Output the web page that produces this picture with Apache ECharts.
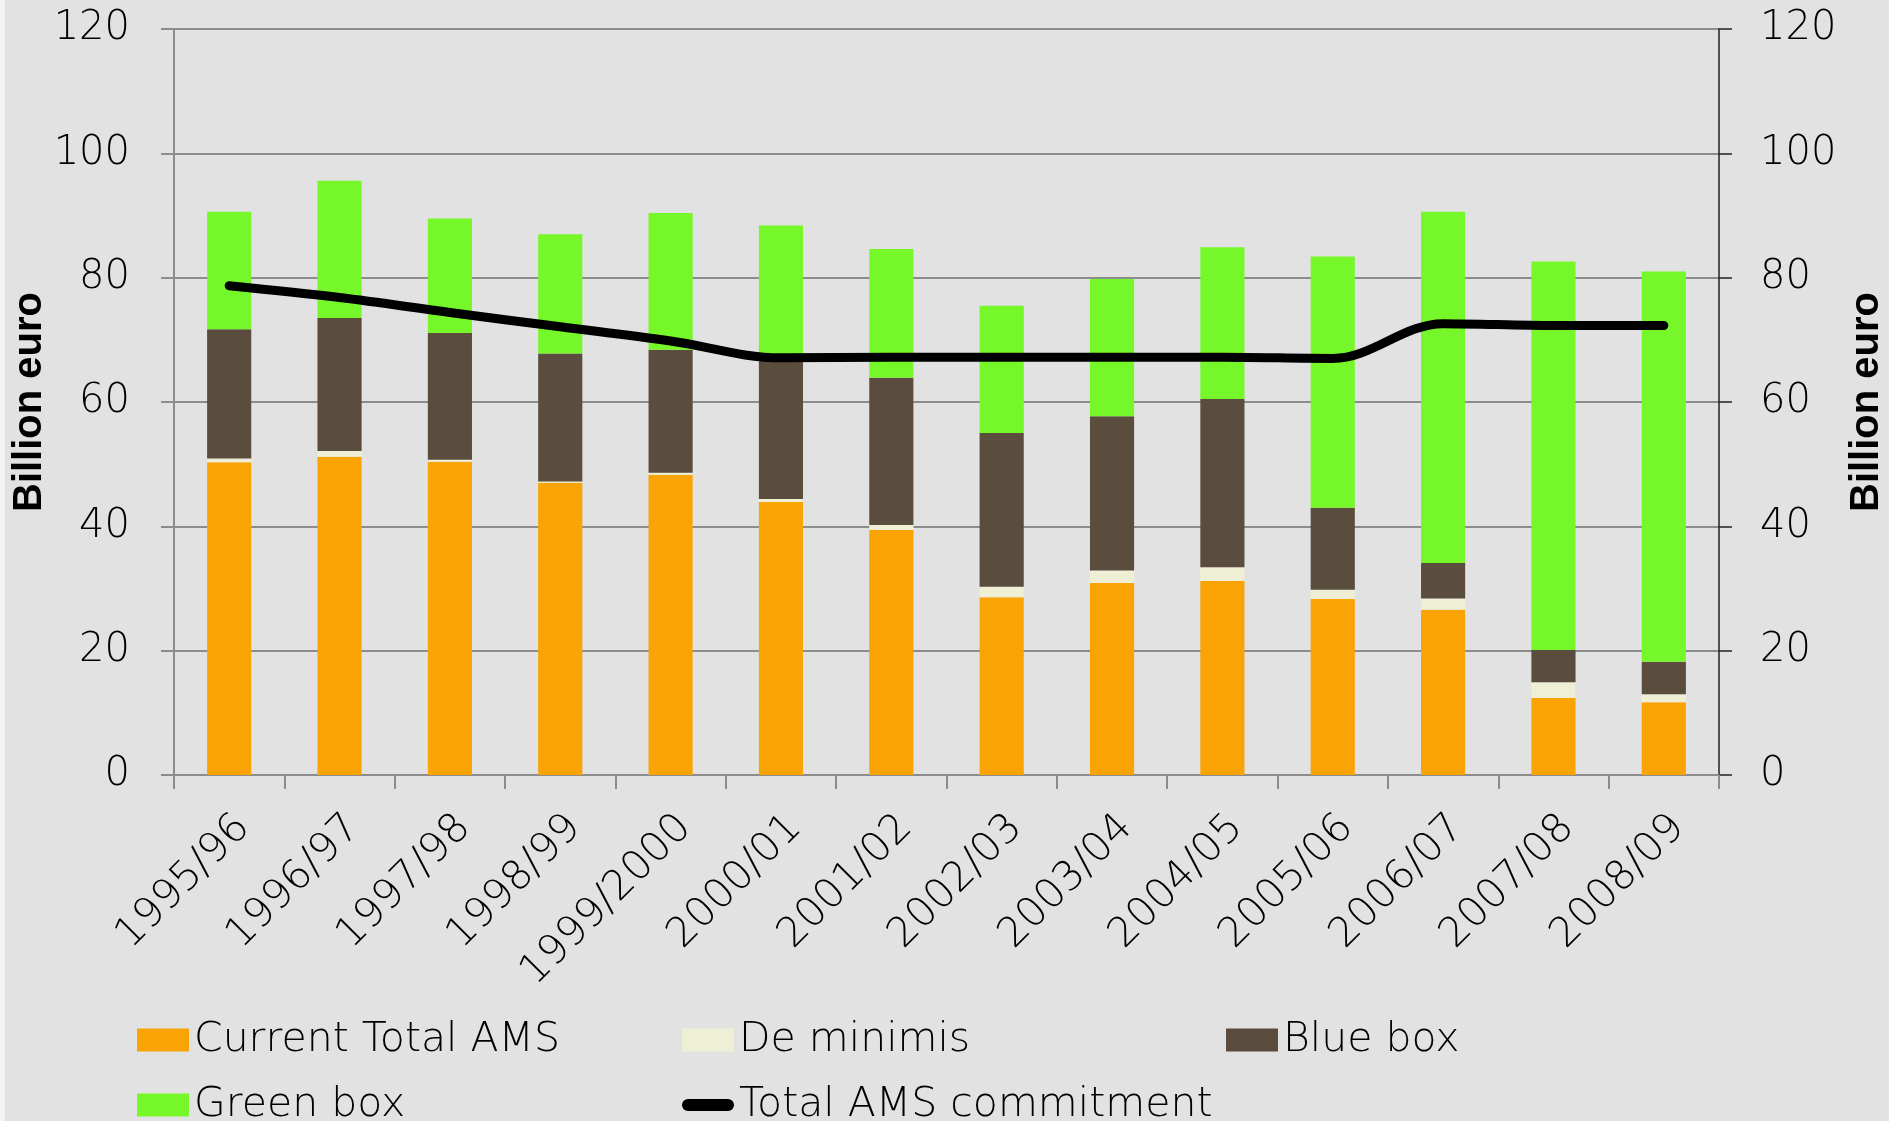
<!DOCTYPE html>
<html>
<head>
<meta charset="utf-8">
<script src="https://cdn.jsdelivr.net/npm/echarts@6/dist/echarts.min.js"></script>
<style>
  html, body { margin: 0; padding: 0; background: #e2e2e2; }
  #chart { width: 1889px; height: 1121px; }
</style>
</head>
<body>
<div id="chart"></div>
<script>
const years = ['1995/96', '1996/97', '1997/98', '1998/99', '1999/2000', '2000/01', '2001/02',
    '2002/03', '2003/04', '2004/05', '2005/06', '2006/07', '2007/08', '2008/09'];
const currentTotalAMS = [50.3, 51.2, 50.4, 47.0, 48.3, 43.9, 39.4, 28.6, 30.9, 31.2, 28.3, 26.6, 12.4, 11.7];
const deMinimis = [0.6, 0.9, 0.3, 0.2, 0.3, 0.5, 0.8, 1.7, 2.0, 2.2, 1.5, 1.8, 2.5, 1.3];
const blueBox = [20.8, 21.4, 20.4, 20.6, 19.8, 23.1, 23.7, 24.7, 24.8, 27.1, 13.2, 5.7, 5.2, 5.2];
const greenBox = [18.9, 22.1, 18.4, 19.2, 22.0, 20.9, 20.7, 20.5, 22.1, 24.4, 40.4, 56.5, 62.5, 62.8];
const amsCommitment = [78.7, 76.8, 74.4, 72.1, 69.8, 67.1, 67.2, 67.2, 67.2, 67.2, 67.0, 72.6, 72.3, 72.3];
const yTicks = { min: 0, max: 120, interval: 20 };

const font = '"DejaVu Sans", sans-serif';
const gridGrey = '#8c8c8c';

const chart = echarts.init(document.getElementById('chart'));

function legendAt(name, left, top, extra) {
    return Object.assign({
        data: [name],
        left: left,
        top: top,
        padding: 0,
        itemWidth: 52,
        itemHeight: 23,
        icon: 'rect',
        textStyle: { fontFamily: font, fontSize: 41, lineHeight: 48, color: '#000', fontWeight: 200 }
    }, extra || {});
}

function yAxisCfg(pos, isLeft) {
    return {
        type: 'value',
        position: pos,
        min: yTicks.min,
        max: yTicks.max,
        interval: yTicks.interval,
        name: 'Billion euro',
        nameLocation: 'middle',
        nameRotate: 90,
        nameMoveOverlap: false,
        nameGap: isLeft ? 124 : 128,
        nameTextStyle: { fontFamily: '"Liberation Sans", Arial, sans-serif', fontWeight: 'bold', fontSize: 40, color: '#000' },
        axisLine: { show: true, lineStyle: { color: isLeft ? gridGrey : '#222', width: isLeft ? 2 : 1.5 } },
        axisTick: { show: true, inside: false, length: 13, lineStyle: { color: isLeft ? gridGrey : '#222', width: isLeft ? 2 : 1.5 } },
        axisLabel: { margin: isLeft ? 44 : 41, fontFamily: font, fontWeight: 200, fontSize: 40, color: '#000' },
        splitLine: { show: isLeft, lineStyle: { color: gridGrey, width: 2 } }
    };
}

const option = {
    backgroundColor: '#e2e2e2',
    animation: false,
    grid: { left: 174, right: 170, top: 29, bottom: 346, containLabel: false, outerBoundsMode: 'none' },
    graphic: [{ type: 'rect', left: 0, top: 0, shape: { width: 5, height: 1121 }, style: { fill: '#f3f3f3' } }],
    legend: [
        legendAt('Current Total AMS', 137, 1016),
        legendAt('De minimis', 682, 1016),
        legendAt('Blue box', 1226, 1016),
        legendAt('Green box', 137, 1081),
        legendAt('Total AMS commitment', 682, 1081, {
            icon: 'path://M6,0 H46 A6,6 0 0 1 46,12 H6 A6,6 0 0 1 6,0 Z',
            itemHeight: 13
        })
    ],
    xAxis: {
        type: 'category',
        data: years,
        boundaryGap: true,
        axisLine: { lineStyle: { color: gridGrey, width: 2 } },
        axisTick: { show: true, length: 14, alignWithLabel: false, lineStyle: { color: gridGrey, width: 2 } },
        axisLabel: {
            rotate: 45,
            interval: 0,
            margin: 32,
            verticalAlign: 'top',
            fontFamily: font,
            fontWeight: 200,
            fontSize: 41,
            color: '#000'
        }
    },
    yAxis: [yAxisCfg('left', true), yAxisCfg('right', false)],
    series: [
        { name: 'Current Total AMS', type: 'bar', stack: 'ams', barWidth: '40%', data: currentTotalAMS, itemStyle: { color: '#f9a305' } },
        { name: 'De minimis', type: 'bar', stack: 'ams', data: deMinimis, itemStyle: { color: '#eeefd5' } },
        { name: 'Blue box', type: 'bar', stack: 'ams', data: blueBox, itemStyle: { color: '#5a4d3e' } },
        { name: 'Green box', type: 'bar', stack: 'ams', data: greenBox, itemStyle: { color: '#76f72a' } },
        {
            name: 'Total AMS commitment', type: 'line', data: amsCommitment, smooth: 0.35,
            symbol: 'none', z: 5,
            lineStyle: { color: '#000', width: 9, cap: 'round', join: 'round' },
            itemStyle: { color: '#000' }
        }
    ]
};
chart.setOption(option);
window.addEventListener('resize', () => chart.resize());
</script>
</body>
</html>
